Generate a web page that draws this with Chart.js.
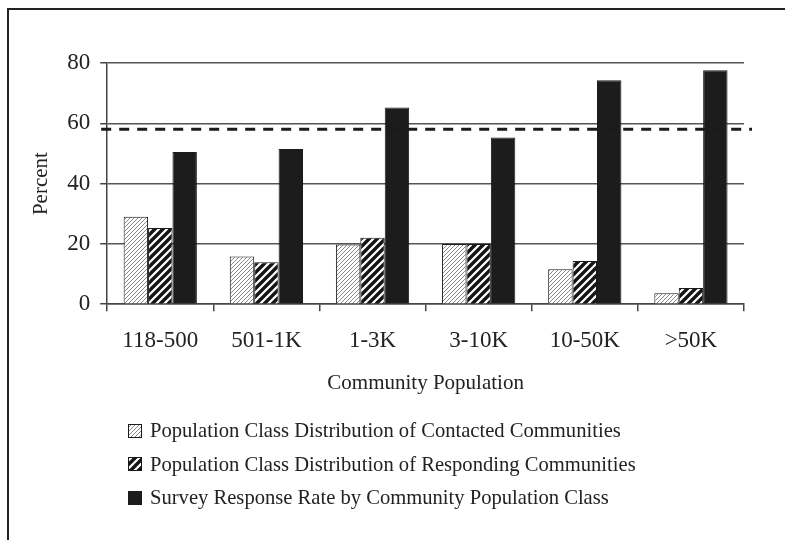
<!DOCTYPE html>
<html>
<head>
<meta charset="utf-8">
<script src="https://cdn.jsdelivr.net/npm/chart.js@4.4.0/dist/chart.umd.min.js"></script>
<style>
    html, body { margin: 0; padding: 0; background: #fff; }
    #wrap { position: relative; width: 785px; height: 540px; overflow: hidden; }
    #frame { position: absolute; left: 7px; top: 8px; right: -5px; bottom: -5px; border-left: 2px solid #222; border-top: 2px solid #222; pointer-events: none; }
    #chart-box { position: absolute; left: 0; top: 0; width: 785px; height: 540px; }
    #legend { position: absolute; left: 128px; top: 414px; font-family: "Liberation Serif", "Times New Roman", serif; font-size: 20.6px; color: #222; }
    .leg-row { display: flex; align-items: center; height: 33.5px; }
    .leg-row canvas { width: 14px; height: 14px; margin-right: 8px; }
</style>
</head>
<body>
<div id="wrap">
    <div id="chart-box"><canvas id="chart-community"></canvas></div>
    <div id="frame"></div>
    <div id="legend"></div>
</div>
<script>
const categories = ['118-500', '501-1K', '1-3K', '3-10K', '10-50K', '>50K'];
const contactedShare = [29.0, 15.8, 19.8, 20.0, 11.6, 3.6];
const respondingShare = [25.3, 13.9, 22.0, 20.0, 14.3, 5.4];
const responseRate = [50.5, 51.5, 65.2, 55.3, 74.3, 77.6];
const seriesLabels = [
    'Population Class Distribution of Contacted Communities',
    'Population Class Distribution of Responding Communities',
    'Survey Response Rate by Community Population Class'
];
const yTicks = [0, 20, 40, 60, 80];
const overallRate = 58;

const serif = '"Liberation Serif", "Times New Roman", serif';
const ink = '#222';

function makeLightHatch() {
    const c = document.createElement('canvas');
    c.width = 4; c.height = 4;
    const g = c.getContext('2d');
    g.fillStyle = '#fff';
    g.fillRect(0, 0, 4, 4);
    g.strokeStyle = '#8a8a8a';
    g.lineWidth = 1;
    g.beginPath();
    g.moveTo(0, 4); g.lineTo(4, 0);
    g.moveTo(-1, 1); g.lineTo(1, -1);
    g.moveTo(3, 5); g.lineTo(5, 3);
    g.stroke();
    return g.createPattern(c, 'repeat');
}

function makeBoldHatch() {
    const c = document.createElement('canvas');
    c.width = 8; c.height = 8;
    const g = c.getContext('2d');
    g.fillStyle = '#fff';
    g.fillRect(0, 0, 8, 8);
    g.strokeStyle = '#151515';
    g.lineWidth = 3.4;
    g.beginPath();
    g.moveTo(0, 8); g.lineTo(8, 0);
    g.moveTo(-2, 2); g.lineTo(2, -2);
    g.moveTo(6, 10); g.lineTo(10, 6);
    g.stroke();
    return g.createPattern(c, 'repeat');
}

const fills = [makeLightHatch(), makeBoldHatch(), '#1c1c1c'];

// dashed reference line for the overall response rate
const dashedLine = {
    id: 'dashedLine',
    afterDatasetsDraw(chart) {
        const { ctx, chartArea, scales } = chart;
        const y = scales.y.getPixelForValue(overallRate);
        ctx.save();
        ctx.strokeStyle = '#1a1a1a';
        ctx.lineWidth = 3;
        ctx.setLineDash([10, 8]);
        ctx.beginPath();
        ctx.moveTo(chartArea.left - 6, y);
        ctx.lineTo(chartArea.right + 8, y);
        ctx.stroke();
        ctx.restore();
    }
};

function renderChart() {
    const ctx = document.getElementById('chart-community').getContext('2d');
    return new Chart(ctx, {
        type: 'bar',
        data: {
            labels: categories,
            datasets: [contactedShare, respondingShare, responseRate].map((values, i) => ({
                label: seriesLabels[i],
                data: values,
                backgroundColor: fills[i],
                borderColor: '#1a1a1a',
                borderWidth: 1,
                categoryPercentage: 0.69,
                barPercentage: 1.0
            }))
        },
        options: {
            responsive: true,
            maintainAspectRatio: false,
            animation: false,
            layout: { padding: { top: 63, left: 29, right: 41, bottom: 144 } },
            plugins: {
                legend: { display: false },
                tooltip: { enabled: false }
            },
            scales: {
                x: {
                    offset: true,
                    grid: {
                        offset: true,
                        color: c => c.index === categories.length ? '#555' : 'rgba(0,0,0,0)',
                        lineWidth: 1.5,
                        tickColor: '#444',
                        tickLength: 7,
                        tickWidth: 1.5
                    },
                    border: { color: '#444', width: 1.5 },
                    ticks: { color: ink, font: { family: serif, size: 23 }, padding: 16, maxRotation: 0 },
                    title: {
                        display: true,
                        text: 'Community Population',
                        color: ink,
                        font: { family: serif, size: 21 },
                        padding: { top: 0, bottom: 0 }
                    }
                },
                y: {
                    min: 0,
                    max: 80,
                    afterBuildTicks: axis => { axis.ticks = yTicks.map(v => ({ value: v })); },
                    grid: { color: '#555', lineWidth: 1.5, tickLength: 7, tickColor: '#444' },
                    border: { color: '#444', width: 1.5 },
                    ticks: { color: ink, font: { family: serif, size: 23 }, padding: 10 },
                    title: {
                        display: true,
                        text: 'Percent',
                        color: ink,
                        font: { family: serif, size: 21 },
                        padding: { top: 0, bottom: 3 }
                    }
                }
            }
        },
        plugins: [dashedLine]
    });
}

function renderLegend() {
    const box = document.getElementById('legend');
    seriesLabels.forEach((label, i) => {
        const row = document.createElement('div');
        row.className = 'leg-row';
        const sw = document.createElement('canvas');
        sw.width = 14; sw.height = 14;
        const g = sw.getContext('2d');
        g.fillStyle = fills[i];
        g.fillRect(0, 0, 14, 14);
        g.strokeStyle = '#1a1a1a';
        g.lineWidth = 1;
        g.strokeRect(0.5, 0.5, 13, 13);
        const txt = document.createElement('span');
        txt.textContent = label;
        row.appendChild(sw);
        row.appendChild(txt);
        box.appendChild(row);
    });
}

renderChart();
renderLegend();
</script>
</body>
</html>
